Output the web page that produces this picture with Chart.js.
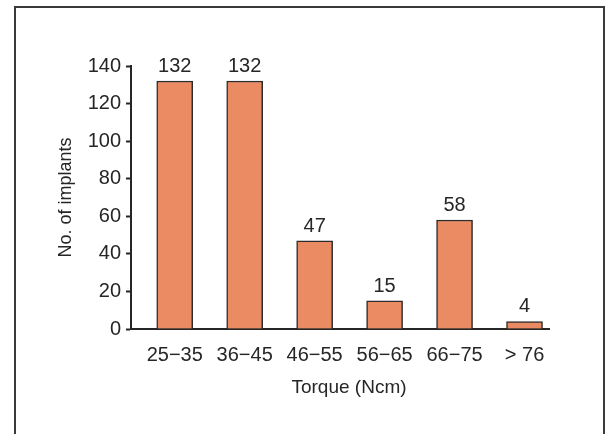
<!DOCTYPE html>
<html>
<head>
<meta charset="utf-8">
<script src="https://cdn.jsdelivr.net/npm/chart.js@4/dist/chart.umd.min.js"></script>
<style>
  html, body { margin: 0; padding: 0; background: #fff; overflow: hidden; }
  #wrap { position: relative; width: 605px; height: 434px; }
  #frame { position: absolute; left: 14px; top: 6px; width: 591px; height: 500px; box-sizing: border-box; border: 2px solid #3a3a3a; }
  canvas { position: absolute; left: 0; top: 0; }
</style>
</head>
<body>
<div id="wrap">
  <div id="frame"></div>
  <canvas id="chart" width="605" height="434"></canvas>
</div>
<script>
const categories = ['25\u221235', '36\u221245', '46\u221255', '56\u221265', '66\u221275', '> 76']
const implants = [132, 132, 47, 15, 58, 4]
const yTicks = [0, 20, 40, 60, 80, 100, 120, 140]
const xTitle = 'Torque (Ncm)'

const FONT = "'Liberation Sans', Arial, sans-serif"
const INK = '#262626'

// value labels above each bar + x axis title (sits a little right of centre in the original)
const barLabels = {
  id: 'barLabels',
  afterDatasetsDraw (chart) {
    const ctx = chart.ctx
    const meta = chart.getDatasetMeta(0)
    ctx.save()
    ctx.font = '20px ' + FONT
    ctx.fillStyle = INK
    ctx.textAlign = 'center'
    ctx.textBaseline = 'alphabetic'
    meta.data.forEach(function (bar, i) {
      ctx.fillText(String(implants[i]), bar.x, bar.y - 9)
    })
    const area = chart.chartArea
    ctx.font = '19px ' + FONT
    ctx.fillText(xTitle, (area.left + area.right) / 2 + 9, area.bottom + 64)
    ctx.restore()
  }
}

const canvas = document.getElementById('chart')
new Chart(canvas.getContext('2d'), {
  type: 'bar',
  data: {
    datasets: [{
      data: implants.map((v, i) => ({ x: i, y: v })),
      backgroundColor: '#EA8B64',
      borderColor: '#2b2b2b',
      borderWidth: 1.5,
      barThickness: 36
    }]
  },
  options: {
    responsive: false,
    animation: false,
    layout: { padding: { left: 0, top: 66, right: 56, bottom: 0 } },
    plugins: {
      legend: { display: false },
      tooltip: { enabled: false }
    },
    scales: {
      x: {
        type: 'linear',
        offset: false,
        min: -0.625,
        max: 5.35,
        z: 1,
        afterFit: function (scale) { scale.height = 105 },
        afterBuildTicks: function (scale) {
          scale.ticks = categories.map((c, i) => ({ value: i }))
        },
        grid: { display: true, offset: false, drawOnChartArea: false, drawTicks: false, color: 'rgba(0,0,0,0)' },
        border: { display: true, color: INK, width: 2 },
        ticks: {
          autoSkip: false,
          maxRotation: 0,
          padding: 14,
          color: INK,
          font: { family: FONT, size: 20 },
          callback: function (value) { return categories[value] }
        },
        title: { display: false }
      },
      y: {
        min: 0,
        max: 140,
        afterFit: function (scale) { scale.width = 131 },
        afterBuildTicks: function (scale) {
          scale.ticks = yTicks.map(v => ({ value: v }))
        },
        grid: { drawOnChartArea: false, drawTicks: true, tickLength: 5, tickWidth: 2, color: INK },
        border: { display: true, color: INK, width: 2 },
        ticks: {
          padding: 5,
          color: INK,
          font: { family: FONT, size: 20 }
        },
        title: {
          display: true,
          text: 'No. of implants',
          color: INK,
          font: { family: FONT, size: 18 },
          padding: { top: 55, bottom: 0 }
        }
      }
    }
  },
  plugins: [barLabels]
})
</script>
</body>
</html>
